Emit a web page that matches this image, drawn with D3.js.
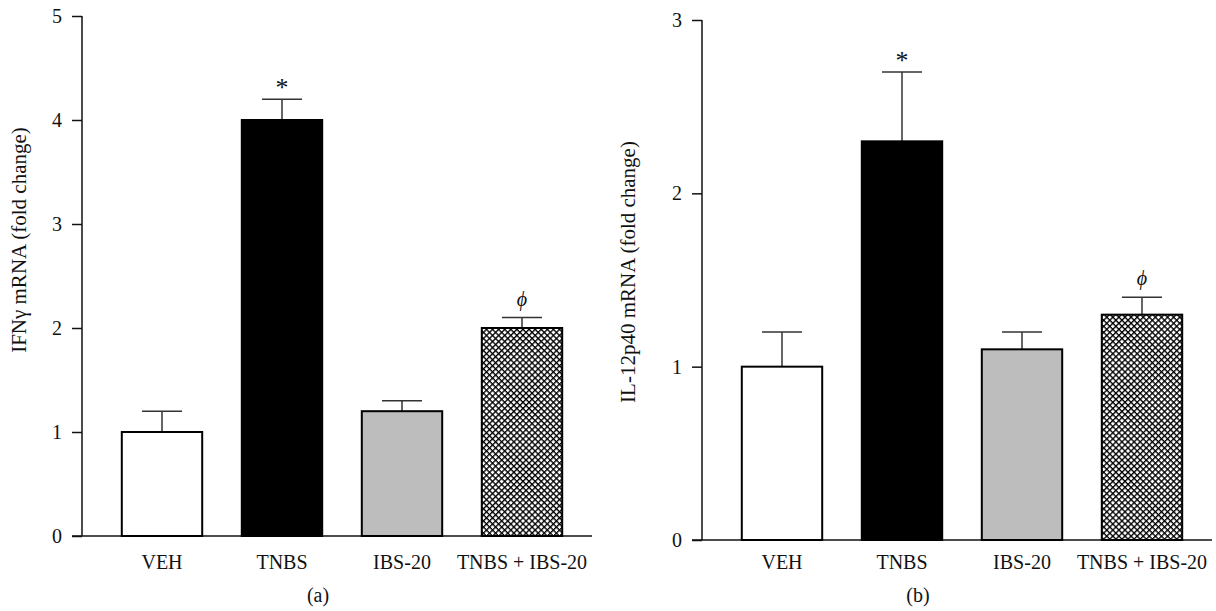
<!DOCTYPE html>
<html>
<head>
<meta charset="utf-8">
<script src="https://cdn.jsdelivr.net/npm/d3@7/dist/d3.min.js"></script>
<style>
  body { margin: 0; background: #fff; }
  svg { display: block; }
  text { font-family: "Liberation Serif", "DejaVu Serif", serif; fill: #111; }
</style>
</head>
<body>
<svg id="chart" width="1216" height="611"></svg>
<script>
// ---- data ----
const categories = ["VEH", "TNBS", "IBS-20", "TNBS + IBS-20"];
const ifngValues = [1.0, 4.0, 1.2, 2.0];
const ifngErrors = [0.2, 0.2, 0.1, 0.1];
const ifngMarks  = ["", "*", "", "ϕ"];
const ifngTicks  = [0, 1, 2, 3, 4, 5];

const il12Values = [1.0, 2.3, 1.1, 1.3];
const il12Errors = [0.2, 0.4, 0.1, 0.1];
const il12Marks  = ["", "*", "", "ϕ"];
const il12Ticks  = [0, 1, 2, 3];

const fills = ["#ffffff", "#000000", "#bdbdbd", "url(#hatch)"];

const svg = d3.select("#chart");

// hatch pattern
const defs = svg.append("defs");
const pat = defs.append("pattern")
  .attr("id", "hatch")
  .attr("patternUnits", "userSpaceOnUse")
  .attr("width", 4.3).attr("height", 4.3)
  .attr("patternTransform", "rotate(45)");
pat.append("rect").attr("width", 4.3).attr("height", 4.3).attr("fill", "#fff");
pat.append("line").attr("x1", 0).attr("y1", 0).attr("x2", 0).attr("y2", 4.3)
  .attr("stroke", "#000").attr("stroke-width", 2.7);
pat.append("line").attr("x1", 0).attr("y1", 0).attr("x2", 4.3).attr("y2", 0)
  .attr("stroke", "#000").attr("stroke-width", 2.7);

function panel(cfg) {
  const g = svg.append("g");
  const y = d3.scaleLinear().domain([0, cfg.max]).range([cfg.y0, cfg.yTop]);
  const x = d3.scaleBand().domain(categories)
    .range([cfg.axisX + 20, cfg.axisX + 500])
    .paddingInner(0.33).paddingOuter(0.165);

  // y axis
  const yAxis = d3.axisLeft(y).tickValues(cfg.ticks).tickSize(10).tickPadding(10)
    .tickFormat(d3.format("d"));
  const ya = g.append("g").attr("transform", `translate(${cfg.axisX},0)`).call(yAxis);
  ya.select(".domain").attr("d", `M0,${cfg.yTop}V${cfg.y0}`).attr("stroke", "#111").attr("stroke-width", 1.5);
  ya.selectAll(".tick line").attr("stroke", "#111").attr("stroke-width", 1.5);
  ya.selectAll(".tick text").attr("font-size", 20).attr("fill", "#111");

  // x axis
  const xAxis = d3.axisBottom(x).tickSize(0).tickPadding(0);
  const xa = g.append("g").attr("transform", `translate(0,${cfg.y0})`).call(xAxis);
  xa.select(".domain").attr("d", `M${cfg.axisX - 10},0H${cfg.axisX + 510}`)
    .attr("stroke", "#111").attr("stroke-width", 1.5);
  xa.selectAll(".tick text").attr("font-size", 20).attr("fill", "#111")
    .attr("dy", 0).attr("y", 569 - cfg.y0);

  // error bars
  const eb = g.append("g");
  cfg.values.forEach((v, i) => {
    const cx = x(categories[i]) + x.bandwidth() / 2;
    const top = y(v + cfg.errors[i]);
    eb.append("line").attr("x1", cx).attr("x2", cx).attr("y1", y(v)).attr("y2", top)
      .attr("stroke", "#333").attr("stroke-width", 1.5);
    eb.append("line").attr("x1", cx - 20).attr("x2", cx + 20).attr("y1", top).attr("y2", top)
      .attr("stroke", "#333").attr("stroke-width", 1.5);
    if (cfg.marks[i]) {
      const m = cfg.marks[i];
      eb.append("text").attr("x", cx).attr("y", top - (m === "*" ? 3 : 12))
        .attr("text-anchor", "middle")
        .attr("font-size", m === "*" ? 26 : 20)
        .attr("font-style", m === "*" ? "normal" : "italic")
        .attr("fill", "#333")
        .text(m);
    }
  });

  // bars
  g.append("g").selectAll("rect").data(cfg.values).join("rect")
    .attr("x", (d, i) => x(categories[i]))
    .attr("width", x.bandwidth())
    .attr("y", d => y(d))
    .attr("height", d => cfg.y0 - y(d))
    .attr("fill", (d, i) => fills[i])
    .attr("stroke", "#000").attr("stroke-width", 2);

  // y title
  g.append("text")
    .attr("transform", `translate(${cfg.titleX},${cfg.titleY}) rotate(-90)`)
    .attr("text-anchor", "middle")
    .attr("font-size", 21)
    .text(cfg.title);

  // panel label
  g.append("text").attr("x", cfg.labelX).attr("y", 602)
    .attr("text-anchor", "middle").attr("font-size", 20).text(cfg.label);
}

panel({
  axisX: 82, y0: 536, yTop: 16, max: 5, ticks: ifngTicks,
  values: ifngValues, errors: ifngErrors, marks: ifngMarks,
  title: "IFNγ mRNA (fold change)", titleX: 26, titleY: 240,
  label: "(a)", labelX: 318
});
panel({
  axisX: 702, y0: 540, yTop: 20, max: 3, ticks: il12Ticks,
  values: il12Values, errors: il12Errors, marks: il12Marks,
  title: "IL-12p40 mRNA (fold change)", titleX: 635, titleY: 272,
  label: "(b)", labelX: 918
});
</script>
</body>
</html>
